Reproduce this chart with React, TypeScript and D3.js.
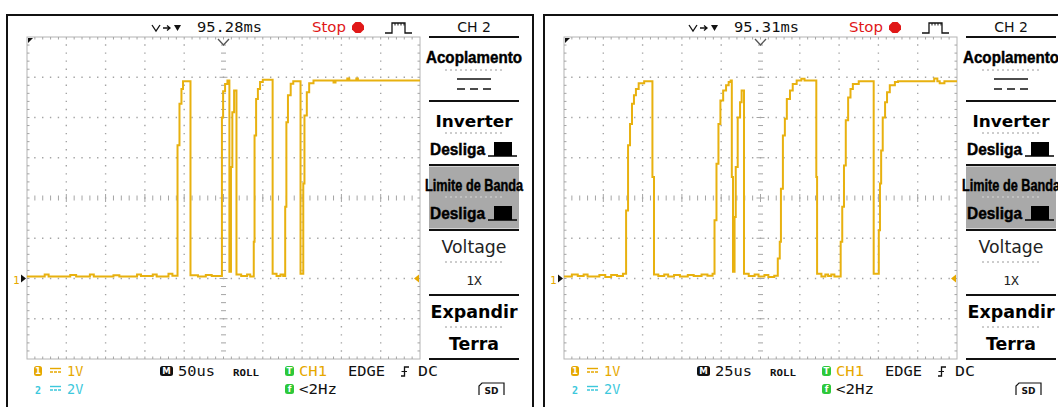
import React from 'react';
import * as d3 from 'd3';

// Channel 1 captures: change points (time in µs from the left edge, volts)
const capture1Times = [
  0, 22.5, 27.5, 55, 62.5, 80, 85, 110, 117.5, 140, 145, 160, 165, 180, 185,
  191.5, 194, 196.5, 198.5, 208, 217.5, 227.5, 235,
  248, 249.5, 252, 255, 257.5, 259.5, 261.25, 263.5, 266.5, 272.5, 280, 284,
  288.5, 289.5, 291.5, 293.75, 296.5, 300, 312.5, 317.5, 322.5, 326,
  328.5, 330, 332, 335.5, 338.75, 348, 351.5, 353, 356, 359, 364.5,
  390, 392.5, 407.5, 410, 419, 421, 500,
];
const capture1Volts = [
  0.05, 0.1, 0.05, 0.09, 0.05, 0.1, 0.05, 0.08, 0.05, 0.1, 0.06, 0.1, 0.05, 0.12, 0.07,
  3.31, 4.34, 4.71, 4.9, 0.08, 0.05, 0.09, 0.06,
  4.0, 4.65, 4.83, 4.92, 0.17, 2.77, 4.13, 4.67, 0.1, 0.06, 0.1, 0.05,
  0.91, 3.55, 4.46, 4.71, 4.88, 4.94, 0.12, 0.06, 0.1, 0.06,
  1.78, 3.88, 4.55, 4.84, 4.9, 0.12, 2.36, 4.05, 4.63, 4.85, 4.92,
  4.87, 4.92, 4.97, 4.92, 4.97, 4.92, 4.92,
];

const capture2Times = [
  0, 5, 8.75, 12.5, 15, 22.5, 26.25, 30, 33.75, 37.5,
  39.5, 40.75, 42, 43.25, 44.5, 45.75, 47.5, 51, 56.25, 57.25,
  60, 63.75, 66.25, 70, 73.75, 78.75, 82.5, 87.5, 91.25, 94.5,
  95.75, 97, 98.25, 99.5, 101.25, 103.1, 104.75, 106, 106.75, 107.5,
  108.5, 109.25, 110.5, 112, 113, 114.5, 117.5, 121.25, 123.75, 127.5, 130, 133.75,
  136, 137.25, 138, 139.25, 140.5, 141.75, 143.75, 145.5, 148, 151, 153, 160.5, 161,
  163.75, 166.25, 168, 170, 172,
  176, 177, 178.1, 179.25, 180.75, 182.25, 183.75, 187.5, 197,
  200.25, 201, 201.75, 202.75, 204.25, 205.5, 207.25, 210.5, 212.5,
  235.5, 237.5, 239, 242, 250,
];
const capture2Volts = [
  0.05, 0.1, 0.06, 0.1, 0.05, 0.09, 0.04, 0.09, 0.06, 0.12,
  1.69, 3.31, 3.84, 4.34, 4.55, 4.71, 4.85, 4.9, 2.52, 0.1,
  0.06, 0.1, 0.05, 0.09, 0.05, 0.09, 0.06, 0.1, 0.07, 0.12,
  1.45, 2.85, 3.84, 4.42, 4.67, 4.8, 4.88, 4.92, 2.52, 0.17,
  1.53, 2.77, 4.0, 4.38, 4.67, 0.12, 0.06, 0.1, 0.05, 0.09, 0.04, 0.07,
  0.5, 0.91, 2.23, 3.55, 3.97, 4.46, 4.67, 4.83, 4.92, 4.96, 4.92, 2.52, 0.12,
  0.05, 0.1, 0.06, 0.1, 0.05,
  0.91, 1.78, 2.81, 3.93, 4.5, 4.71, 4.83, 4.9, 0.12,
  1.2, 2.36, 3.18, 4.0, 4.38, 4.63, 4.8, 4.88, 4.9,
  4.97, 4.9, 4.85, 4.9, 4.9,
];

// Status texts of the two screens
const delayLabels = ['95.28ms', '95.31ms'];
const timebaseLabels = ['50us', '25us'];
const usPerDivision = [50, 25];

const W = 1058;
const H = 407;
const PL = 27, PR = 420, PT = 37, PB = 359;
const MC = 474, MX0 = 429, MX1 = 519;

const MONO = "'DejaVu Sans Mono', monospace";
const SANS = "'DejaVu Sans', sans-serif";
const NARROW = "'Liberation Sans', Arial, sans-serif";
const TRACE = '#e8b10f';
const ORANGE = '#e6a800';
const CYAN = '#3cc8dc';
const GREEN = '#2ec83a';
const GRID = '#a4a4a4';

function Sep({ y }: { y: number }) {
  return <line x1={MX0} x2={MX1} y1={y} y2={y} stroke="#111" strokeWidth={2} />;
}
function Dotted({ y, c = '#9a9a9a' }: { y: number; c?: string }) {
  return <line x1={MC - 29} x2={MC + 29} y1={y} y2={y} stroke={c} strokeWidth={1} strokeDasharray="2 3" />;
}
function OffIcon({ x, y }: { x: number; y: number }) {
  return (
    <g>
      <line x1={x} x2={x + 29} y1={y} y2={y} stroke="#000" strokeWidth={1.5} />
      <rect x={x + 6} y={y - 14} width={18} height={14} fill="#000" />
    </g>
  );
}
function Badge({ x, y, w, fill, label, color = '#fff' }: any) {
  return (
    <g>
      <rect x={x} y={y} width={w} height={10} rx={2.5} fill={fill} />
      <text x={x + w / 2} y={y + 8.3} fontSize={8.5} fontWeight="bold" textAnchor="middle" fill={color} fontFamily={SANS}>{label}</text>
    </g>
  );
}
function DcSymbol({ x, y, color }: { x: number; y: number; color: string }) {
  return (
    <g stroke={color} strokeWidth={1.4}>
      <line x1={x} x2={x + 11} y1={y} y2={y} />
      <line x1={x} x2={x + 11} y1={y + 3.5} y2={y + 3.5} strokeDasharray="3 1" />
    </g>
  );
}
// Heavy condensed menu caption
function Heavy({ x, y, w, anchor = 'start', size = 17, children }: any) {
  return (
    <text x={x} y={y} fontFamily={NARROW} fontWeight="bold" fontSize={size} textAnchor={anchor}
      textLength={w} lengthAdjust="spacingAndGlyphs" fill="#000" stroke="#000" strokeWidth={0.45}>{children}</text>
  );
}

function Panel({ dx, times, volts, usPerDiv, delay, timebase }: any) {
  const x = d3.scaleLinear().domain([0, usPerDiv * 10]).range([PL, PR]);
  const y = d3.scaleLinear().domain([-2, 6]).range([PB, PT]);
  const gx = d3.scaleLinear().domain([0, 10]).range([PL, PR]);
  const gy = d3.scaleLinear().domain([0, 8]).range([PT, PB]);
  const pts: [number, number][] = times.map((t: number, i: number) => [t, volts[i]]);
  const trace = d3.line<[number, number]>().x(d => x(d[0])).y(d => y(d[1])).curve(d3.curveStepAfter)(pts) || '';

  // grid dots on every division line, five per division
  let dots = '';
  const sq = (px: number, py: number) => `M${(px - 0.7).toFixed(2)},${(py - 0.7).toFixed(2)}h1.4v1.4h-1.4z`;
  for (let i = 1; i < 10; i++) {
    if (i === 5) continue;
    for (let k = 1; k < 40; k++) dots += sq(gx(i), gy(k / 5));
  }
  for (let j = 1; j < 8; j++) {
    if (j === 4) continue;
    for (let k = 1; k < 50; k++) dots += sq(gx(k / 5), gy(j));
  }
  // axis ticks: centre cross and frame edges
  let ticks = '';
  for (let k = 1; k < 50; k++) {
    const px = gx(k / 5);
    const len = k % 5 === 0 ? 4 : 2.5;
    ticks += `M${px},${gy(4) - len}V${gy(4) + len}`;
    ticks += `M${px},${PT}v2.5M${px},${PB}v-2.5`;
  }
  for (let k = 1; k < 40; k++) {
    const py = gy(k / 5);
    const len = k % 5 === 0 ? 4 : 2.5;
    ticks += `M${gx(5) - len},${py}H${gx(5) + len}`;
    ticks += `M${PL},${py}h2.5M${PR},${py}h-2.5`;
  }

  return (
    <g transform={`translate(${dx},0)`}>
      <rect x={7} y={15} width={526} height={420} fill="#fff" stroke="#111" strokeWidth={2} />

      {/* status line */}
      <g stroke="#111" strokeWidth={1.3} fill="none">
        <path d="M152,25 L156,31 L160,25" />
        <path d="M163,28 H170 M167,25.5 L170,28 L167,30.5" />
      </g>
      <path d="M174,25 H181 L177.5,31 Z" fill="#111" />
      <text x={197} y={32} fontFamily={MONO} fontSize={14} textLength={65} lengthAdjust="spacingAndGlyphs" fill="#111">{delay}</text>
      <text x={312} y={32} fontFamily={SANS} fontSize={13.5} textLength={34} lengthAdjust="spacingAndGlyphs" fill="#e01818">Stop</text>
      <polygon points="355.5,22 360.5,22 364,25.5 364,29.5 360.5,33 355.5,33 352,29.5 352,25.5" fill="#e01818" />
      <path d="M385,33 H392 V23 H405 V33 H412" stroke="#111" strokeWidth={1.3} fill="none" />
      <path d="M395,23v2.5M398,23v2.5M401,23v2.5M404,23v2.5" stroke="#111" strokeWidth={1} />

      {/* plot area */}
      <rect x={PL} y={PT} width={PR - PL} height={PB - PT} fill="#fff" stroke="#b4b4b4" strokeWidth={1} />
      <path d={dots} fill={GRID} />
      <path d={ticks} stroke={GRID} strokeWidth={1} fill="none" />
      <path d="M218,39 L223.5,45 L229,39" stroke="#555" strokeWidth={1.3} fill="none" />
      <path d="M28,38 H33 L28,43 Z" fill="#111" />
      <text x={13} y={y(0) + 5} fontFamily={MONO} fontSize={11} fill={ORANGE}>1</text>
      <path d={`M21,${y(0) - 4} L26,${y(0)} L21,${y(0) + 4} Z`} fill="#111" />
      <path d={`M${PR - 1},${y(0) - 4} L${PR - 6},${y(0)} L${PR - 1},${y(0) + 4} Z`} fill={ORANGE} />
      <path d={trace} fill="none" stroke={TRACE} strokeWidth={2} strokeLinejoin="miter" />

      {/* menu */}
      <text x={MC} y={32} fontFamily={SANS} fontSize={14} textAnchor="middle" fill="#111">CH 2</text>
      <Sep y={37} />
      <Heavy x={MC} y={63} w={96} anchor="middle">Acoplamento</Heavy>
      <Dotted y={70} />
      <line x1={MC - 17} x2={MC + 17} y1={79} y2={79} stroke="#111" strokeWidth={1.5} />
      <line x1={MC - 17} x2={MC + 17} y1={89} y2={89} stroke="#111" strokeWidth={1.5} strokeDasharray="8 5" />
      <Sep y={101} />
      <text x={MC} y={127} fontFamily={SANS} fontWeight="bold" fontSize={16} textAnchor="middle" textLength={77} lengthAdjust="spacingAndGlyphs" fill="#000">Inverter</text>
      <Dotted y={133} />
      <Heavy x={430} y={155} w={55}>Desliga</Heavy>
      <OffIcon x={488} y={156} />
      <Sep y={165} />
      <rect x={MX0} y={166.5} width={MX1 - MX0} height={62} fill="#a9a9a9" />
      <Heavy x={MC} y={191} w={98} size={16} anchor="middle">Limite de Banda</Heavy>
      <Dotted y={197} c="#d8d8d8" />
      <Heavy x={430} y={219} w={55}>Desliga</Heavy>
      <OffIcon x={488} y={220} />
      <Sep y={230} />
      <text x={MC} y={253} fontFamily={SANS} fontSize={17} textAnchor="middle" textLength={65} lengthAdjust="spacingAndGlyphs" fill="#222">Voltage</text>
      <Dotted y={262} />
      <text x={MC} y={284.5} fontFamily={MONO} fontSize={13} textAnchor="middle" fill="#222">1X</text>
      <Sep y={295} />
      <text x={MC} y={318} fontFamily={SANS} fontWeight="bold" fontSize={17} textAnchor="middle" textLength={87} lengthAdjust="spacingAndGlyphs" fill="#000">Expandir</text>
      <Dotted y={327} />
      <text x={MC} y={350} fontFamily={SANS} fontWeight="bold" fontSize={17} textAnchor="middle" textLength={50} lengthAdjust="spacingAndGlyphs" fill="#000">Terra</text>
      <Sep y={359} />

      {/* info bar */}
      <Badge x={34} y={366} w={8} fill={ORANGE} label="1" />
      <DcSymbol x={50} y={368.5} color={ORANGE} />
      <text x={67} y={376} fontFamily={MONO} fontSize={13.5} fill={ORANGE}>1V</text>
      <text x={35} y={394} fontFamily={MONO} fontSize={10} fontWeight="bold" fill={CYAN}>2</text>
      <DcSymbol x={50} y={386.5} color={CYAN} />
      <text x={67} y={394} fontFamily={MONO} fontSize={13.5} fill={CYAN}>2V</text>
      <Badge x={160} y={366} w={13} fill="#111" label="M" />
      <text x={178} y={376} fontFamily={MONO} fontSize={14} textLength={37} lengthAdjust="spacingAndGlyphs" fill="#111">{timebase}</text>
      <text x={233} y={376} fontFamily={MONO} fontSize={9.5} fontWeight="bold" textLength={26} lengthAdjust="spacingAndGlyphs" fill="#111">ROLL</text>
      <Badge x={285} y={366} w={9} fill={GREEN} label="T" />
      <text x={299} y={376} fontFamily={MONO} fontSize={14} textLength={28} lengthAdjust="spacingAndGlyphs" fill={ORANGE}>CH1</text>
      <text x={348} y={376} fontFamily={MONO} fontSize={14} textLength={37} lengthAdjust="spacingAndGlyphs" fill="#111">EDGE</text>
      <path d="M401,376 H404.5 V367 H409" stroke="#111" strokeWidth={1.3} fill="none" />
      <path d="M401.5,371.5 H407" stroke="#111" strokeWidth={1} />
      <text x={418} y={376} fontFamily={MONO} fontSize={14} textLength={20} lengthAdjust="spacingAndGlyphs" fill="#111">DC</text>
      <Badge x={285} y={384} w={9} fill={GREEN} label="f" />
      <text x={299} y={394} fontFamily={MONO} fontSize={14} textLength={38} lengthAdjust="spacingAndGlyphs" fill="#111">&lt;2Hz</text>
      <path d="M479,395 V386 L482,383 H504 V395" stroke="#111" strokeWidth={1.2} fill="none" />
      <text x={491.5} y={393.5} fontFamily={SANS} fontSize={9} fontWeight="bold" textAnchor="middle" fill="#111">SD</text>
    </g>
  );
}

export default function App() {
  return (
    <div style={{ position: 'absolute', left: 0, top: 0 }}>
      <svg width={W} height={H} viewBox={`0 0 ${W} ${H}`} style={{ display: 'block', background: '#fff' }}>
        <rect width={W} height={H} fill="#fff" />
        <Panel dx={0} times={capture1Times} volts={capture1Volts} usPerDiv={usPerDivision[0]} delay={delayLabels[0]} timebase={timebaseLabels[0]} />
        <Panel dx={537} times={capture2Times} volts={capture2Volts} usPerDiv={usPerDivision[1]} delay={delayLabels[1]} timebase={timebaseLabels[1]} />
      </svg>
    </div>
  );
}
